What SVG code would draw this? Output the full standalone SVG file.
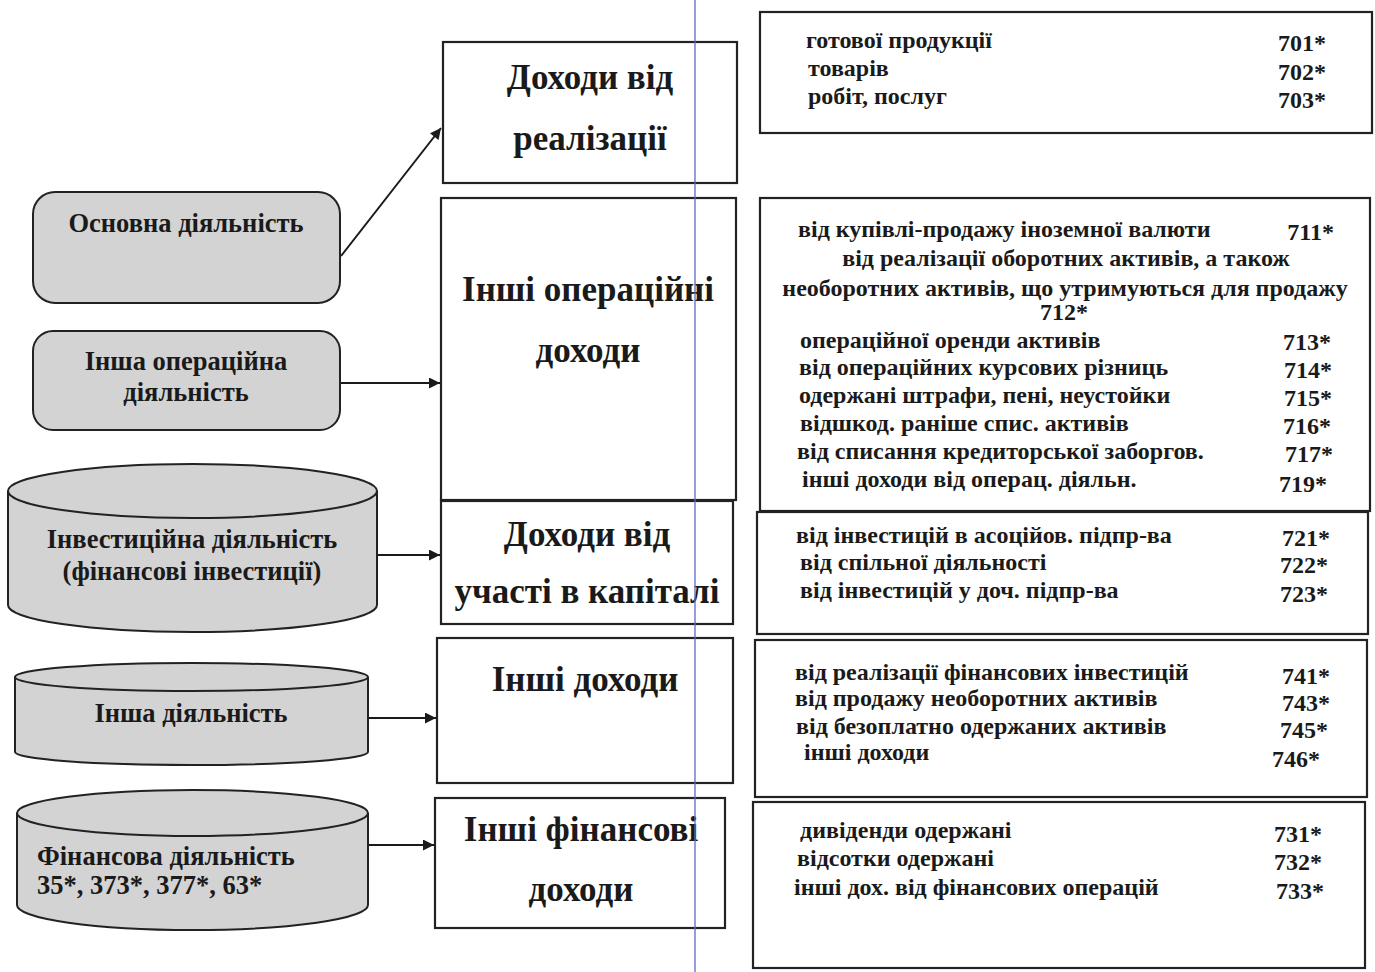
<svg xmlns="http://www.w3.org/2000/svg" width="1375" height="972" viewBox="0 0 1375 972">
<defs>
<style>
.bg{fill:#ffffff}
.node{fill:#d3d3d3;stroke:#222;stroke-width:2}
.box{fill:#ffffff;stroke:#222;stroke-width:2.2}
.lt{font-family:"Liberation Serif","Times New Roman",serif;font-weight:bold;font-size:26.5px;fill:#1a1a1a}
.mt{font-family:"Liberation Serif","Times New Roman",serif;font-weight:bold;font-size:35px;fill:#1a1a1a;text-anchor:middle}
.rt{font-family:"Liberation Serif","Times New Roman",serif;font-weight:bold;font-size:24px;fill:#1a1a1a}
.num{text-anchor:end}
.c{text-anchor:middle}
.conn{stroke:#1a1a1a;stroke-width:2;fill:none}
</style>
<marker id="arr" viewBox="0 0 10 10" refX="10" refY="5" markerWidth="13" markerHeight="11" markerUnits="userSpaceOnUse" orient="auto">
<path d="M0,0 L10,5 L0,10 z" fill="#1a1a1a"/>
</marker>
</defs>
<rect class="bg" x="0" y="0" width="1375" height="972"/>

<!-- left nodes -->
<g id="n-osnovna">
<rect class="node" x="33" y="192" width="307" height="111" rx="22"/>
<text class="lt c" x="186" y="232">Основна діяльність</text>
</g>
<g id="n-insha-oper">
<rect class="node" x="33" y="331" width="307" height="99" rx="20"/>
<text class="lt c" x="186" y="370">Інша операційна</text>
<text class="lt c" x="186" y="401">діяльність</text>
</g>
<g id="n-invest">
<path class="node" d="M8,491 L8,605 A184.5,27 0 0 0 377,605 L377,491"/>
<ellipse class="node" cx="192.5" cy="491" rx="184.5" ry="27"/>
<text class="lt c" x="192" y="548">Інвестиційна діяльність</text>
<text class="lt c" x="192" y="580">(фінансові інвестиції)</text>
</g>
<g id="n-insha">
<path class="node" d="M15,677 L15,752 A176.5,13 0 0 0 368,752 L368,677"/>
<ellipse class="node" cx="191.5" cy="677" rx="176.5" ry="14"/>
<text class="lt c" x="191" y="722">Інша діяльність</text>
</g>
<g id="n-finans">
<path class="node" d="M17,813 L17,905 A175.5,25 0 0 0 368,905 L368,813"/>
<ellipse class="node" cx="192.5" cy="813" rx="175.5" ry="23"/>
<text class="lt" x="37" y="865">Фінансова діяльність</text>
<text class="lt" x="37" y="894">35*, 373*, 377*, 63*</text>
</g>

<!-- middle boxes -->
<g id="m-realiz">
<rect class="box" x="443" y="42" width="294" height="141"/>
<text class="mt" x="590" y="89">Доходи від</text>
<text class="mt" x="590" y="150">реалізації</text>
</g>
<g id="m-inshi-oper">
<rect class="box" x="441" y="198" width="295" height="302"/>
<text class="mt" x="588" y="301">Інші операційні</text>
<text class="mt" x="588" y="362">доходи</text>
</g>
<g id="m-uchast">
<rect class="box" x="441" y="501" width="292" height="123"/>
<text class="mt" x="587" y="546">Доходи від</text>
<text class="mt" x="587" y="603">участі в капіталі</text>
</g>
<g id="m-inshi">
<rect class="box" x="437" y="638" width="296" height="145"/>
<text class="mt" x="585" y="691">Інші доходи</text>
</g>
<g id="m-inshi-fin">
<rect class="box" x="435" y="798" width="290" height="130"/>
<text class="mt" x="581" y="841">Інші фінансові</text>
<text class="mt" x="581" y="901">доходи</text>
</g>

<!-- right boxes -->
<g id="r-701">
<rect class="box" x="760" y="12" width="612" height="121"/>
<text class="rt" x="806" y="48">готової продукції</text>
<text class="rt num" x="1326" y="51">701*</text>
<text class="rt" x="808" y="76">товарів</text>
<text class="rt num" x="1326" y="80">702*</text>
<text class="rt" x="808" y="104">робіт, послуг</text>
<text class="rt num" x="1326" y="108">703*</text>
</g>
<g id="r-71">
<rect class="box" x="760" y="198" width="610" height="313"/>
<text class="rt" x="798" y="237">від купівлі-продажу іноземної валюти</text>
<text class="rt num" x="1334" y="240">711*</text>
<text class="rt c" x="1066" y="266">від реалізації оборотних активів, а також</text>
<text class="rt c" x="1065" y="296">необоротних активів, що утримуються для продажу</text>
<text class="rt c" x="1064" y="320">712*</text>
<text class="rt" x="800" y="348">операційної оренди активів</text>
<text class="rt num" x="1331" y="350">713*</text>
<text class="rt" x="799" y="375">від операційних курсових різниць</text>
<text class="rt num" x="1332" y="378">714*</text>
<text class="rt" x="799" y="403">одержані штрафи, пені, неустойки</text>
<text class="rt num" x="1332" y="406">715*</text>
<text class="rt" x="800" y="431">відшкод. раніше спис. активів</text>
<text class="rt num" x="1331" y="434">716*</text>
<text class="rt" x="797" y="459">від списання кредиторської заборгов.</text>
<text class="rt num" x="1333" y="462">717*</text>
<text class="rt" x="802" y="487">інші доходи від операц. діяльн.</text>
<text class="rt num" x="1327" y="492">719*</text>
</g>
<g id="r-72">
<rect class="box" x="757" y="512" width="611" height="122"/>
<text class="rt" x="796" y="543">від інвестицій в асоційов. підпр-ва</text>
<text class="rt num" x="1330" y="546">721*</text>
<text class="rt" x="800" y="570">від спільної діяльності</text>
<text class="rt num" x="1328" y="573">722*</text>
<text class="rt" x="800" y="598">від інвестицій у доч. підпр-ва</text>
<text class="rt num" x="1328" y="602">723*</text>
</g>
<g id="r-74">
<rect class="box" x="755" y="640" width="612" height="157"/>
<text class="rt" x="795" y="680">від реалізації фінансових інвестицій</text>
<text class="rt num" x="1330" y="684">741*</text>
<text class="rt" x="795" y="706">від продажу необоротних активів</text>
<text class="rt num" x="1330" y="711">743*</text>
<text class="rt" x="796" y="734">від безоплатно одержаних активів</text>
<text class="rt num" x="1328" y="738">745*</text>
<text class="rt" x="804" y="760">інші доходи</text>
<text class="rt num" x="1320" y="767">746*</text>
</g>
<g id="r-73">
<rect class="box" x="753" y="802" width="612" height="166"/>
<text class="rt" x="800" y="838">дивіденди одержані</text>
<text class="rt num" x="1322" y="842">731*</text>
<text class="rt" x="797" y="866">відсотки одержані</text>
<text class="rt num" x="1322" y="870">732*</text>
<text class="rt" x="794" y="895">інші дох. від фінансових операцій</text>
<text class="rt num" x="1324" y="899">733*</text>
</g>

<!-- connectors -->
<g id="connectors">
<line class="conn" x1="341" y1="256" x2="441" y2="128" marker-end="url(#arr)"/>
<line class="conn" x1="341" y1="383" x2="440" y2="383" marker-end="url(#arr)"/>
<line class="conn" x1="378" y1="555" x2="440" y2="555" marker-end="url(#arr)"/>
<line class="conn" x1="369" y1="718" x2="436" y2="718" marker-end="url(#arr)"/>
<line class="conn" x1="369" y1="845" x2="434" y2="845" marker-end="url(#arr)"/>
</g>

<line x1="695" y1="0" x2="695" y2="972" stroke="#5a6ac8" stroke-width="1.3"/>
</svg>
